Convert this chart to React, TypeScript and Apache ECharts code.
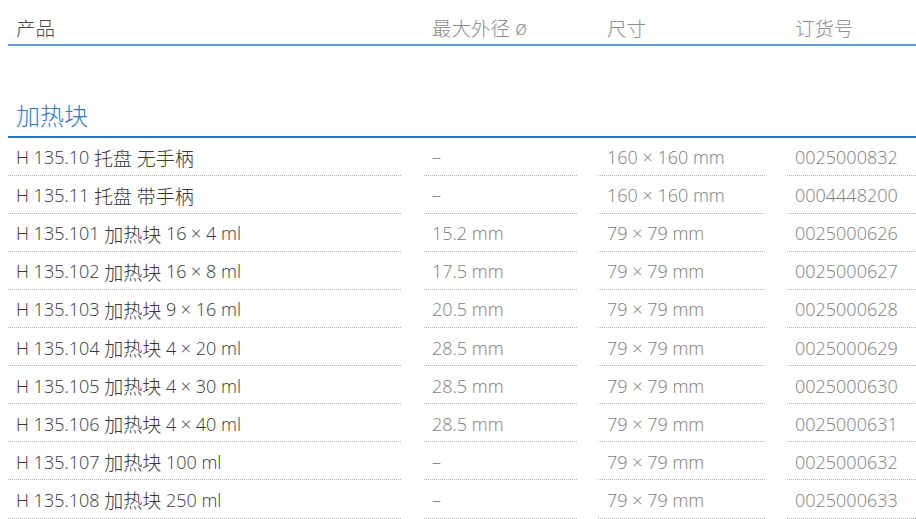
import React, { useEffect, useRef } from "react";
import * as echarts from "echarts";

const headers = ["产品", "最大外径 ø", "尺寸", "订货号"];
const sectionTitle = "加热块";
const products = [
  "H 135.10 托盘 无手柄",
  "H 135.11 托盘 带手柄",
  "H 135.101 加热块 16 × 4 ml",
  "H 135.102 加热块 16 × 8 ml",
  "H 135.103 加热块 9 × 16 ml",
  "H 135.104 加热块 4 × 20 ml",
  "H 135.105 加热块 4 × 30 ml",
  "H 135.106 加热块 4 × 40 ml",
  "H 135.107 加热块 100 ml",
  "H 135.108 加热块 250 ml",
];
const diameters = ["–", "–", "15.2 mm", "17.5 mm", "20.5 mm", "28.5 mm", "28.5 mm", "28.5 mm", "–", "–"];
const sizes = [
  "160 × 160 mm",
  "160 × 160 mm",
  "79 × 79 mm",
  "79 × 79 mm",
  "79 × 79 mm",
  "79 × 79 mm",
  "79 × 79 mm",
  "79 × 79 mm",
  "79 × 79 mm",
  "79 × 79 mm",
];
const orderNumbers = [
  "0025000832",
  "0004448200",
  "0025000626",
  "0025000627",
  "0025000628",
  "0025000629",
  "0025000630",
  "0025000631",
  "0025000632",
  "0025000633",
];

const LATIN = '"Open Sans", "Noto Sans CJK SC", sans-serif';
const CJK = '"Noto Sans CJK SC", sans-serif';
const colTextX = [16, 432, 607, 795];
const colLines = [
  [8, 402],
  [424, 577],
  [598, 766],
  [787, 916],
];

function toRich(s: string): string {
  const parts = s.match(/[\u3400-\u9fff]+|[^\u3400-\u9fff]+/g) || [];
  return parts
    .map((p) => (/[\u3400-\u9fff]/.test(p) ? `{c|${p}}` : `{l|${p}}`))
    .join("");
}

function richStyle(fill: string, latinSize: number, cjkSize: number) {
  return {
    l: { fill, fontSize: latinSize, fontFamily: LATIN, fontWeight: 300, verticalAlign: "middle" },
    c: { fill, fontSize: cjkSize, fontFamily: CJK, fontWeight: 300, verticalAlign: "middle" },
  };
}

export default function App() {
  const ref = useRef<HTMLDivElement>(null);
  useEffect(() => {
    if (!ref.current) return;
    const chart = echarts.init(ref.current, null, { renderer: "svg" });
    const columns = [products, diameters, sizes, orderNumbers];
    chart.setOption({
      animation: false,
      backgroundColor: "#ffffff",
      grid: { left: 0, top: 138, width: 916, height: 385 },
      xAxis: { type: "value", min: 0, max: 916, show: false },
      yAxis: { type: "value", min: 0, max: products.length, inverse: true, show: false },
      graphic: [
        ...headers.map((h, i) => ({
          type: "text",
          x: colTextX[i],
          y: 27,
          style: {
            text: toRich(h),
            verticalAlign: "middle",
            rich: richStyle(i === 0 ? "#4a4a4a" : "#8c8c8c", 20, 19.5),
          },
        })),
        {
          type: "line",
          shape: { x1: 8, y1: 45, x2: 916, y2: 45 },
          style: { stroke: "#5b9bd5", lineWidth: 2 },
        },
        {
          type: "text",
          x: 16,
          y: 114,
          style: {
            text: sectionTitle,
            fill: "#2f7abf",
            fontSize: 24,
            fontFamily: CJK,
            fontWeight: 300,
            verticalAlign: "middle",
          },
        },
        {
          type: "line",
          shape: { x1: 8, y1: 137, x2: 916, y2: 137 },
          style: { stroke: "#2e75b6", lineWidth: 2 },
        },
      ],
      series: [
        {
          type: "custom",
          data: products.map((_, i) => [0, i]),
          encode: { x: 0, y: 1 },
          renderItem: (params: any, api: any) => {
            const i = api.value(1);
            const yc = api.coord([0, i + 0.5])[1];
            const yb = Math.round(api.coord([0, i + 1])[1] - 1.5) + 0.5;
            const children: any[] = [];
            columns.forEach((col, c) => {
              children.push({
                type: "text",
                x: api.coord([colTextX[c], 0])[0],
                y: yc,
                style: {
                  text: toRich(col[i]),
                  verticalAlign: "middle",
                  rich: richStyle(c === 0 ? "#363636" : "#7d7d7d", 18, 19),
                },
              });
              children.push({
                type: "line",
                shape: {
                  x1: api.coord([colLines[c][0], 0])[0],
                  y1: yb,
                  x2: api.coord([colLines[c][1], 0])[0],
                  y2: yb,
                },
                style: { stroke: "#b4b4b4", lineWidth: 1, lineDash: [1, 1] },
              });
            });
            return { type: "group", children };
          },
        },
      ],
    });
    return () => chart.dispose();
  }, []);
  return (
    <div
      ref={ref}
      style={{ position: "fixed", left: 0, top: 0, width: 916, height: 519 }}
    />
  );
}
